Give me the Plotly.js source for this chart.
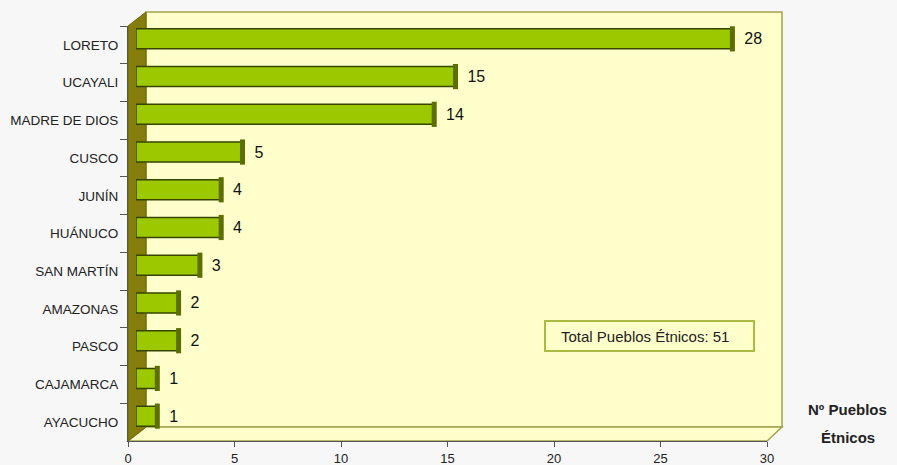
<!DOCTYPE html>
<html>
<head>
<meta charset="utf-8">
<script src="https://cdn.plot.ly/plotly-3.0.1.min.js"></script>
<style>html,body{margin:0;padding:0;background:#f7f7f7;}</style>
</head>
<body>
<div id="chart" style="width:897px;height:465px;"></div>
<script>
const categories = ['LORETO','UCAYALI','MADRE DE DIOS','CUSCO','JUNÍN','HUÁNUCO','SAN MARTÍN','AMAZONAS','PASCO','CAJAMARCA','AYACUCHO'];
const values = [28,15,14,5,4,4,3,2,2,1,1];
const xTicks = [0,5,10,15,20,25,30];
const totalLabel = 'Total Pueblos Étnicos: 51';
const axisTitleLines = ['Nº Pueblos','Étnicos'];

// plot area in px: x 128..782, y 12..441
const L = 128, R = 782, T = 12, B = 441;
const W = R - L, H = B - T;
const px = v => (v - L) / W;
const py = v => (B - v) / H;

const wallFill = '#ffffcc', wallLine = '#a2a24e', sideFill = '#857d0c';
const font = 'Liberation Sans, Arial, sans-serif';

const traces = [
  { // invisible helper so front axes render categories
    type: 'scatter', mode: 'markers', x: values.map(() => 0), y: categories,
    xaxis: 'x', yaxis: 'y', marker: {opacity: 0}, hoverinfo: 'skip', showlegend: false
  },
  {
    type: 'bar', orientation: 'h', x: values, y: categories,
    xaxis: 'x2', yaxis: 'y2', width: 0.53,
    marker: {color: '#9cc800', line: {color: '#354500', width: 1.5}},
    text: values.map(String), texttemplate: '  %{text}', textposition: 'outside',
    textfont: {family: font, size: 16, color: '#111'},
    cliponaxis: false, showlegend: false
  },
  { // cylinder end caps
    type: 'scatter', mode: 'markers', x: values, y: categories,
    xaxis: 'x2', yaxis: 'y2',
    marker: {symbol: 'line-ns-open', size: 18, color: '#5a6f00', line: {width: 5, color: '#5a6f00'}},
    hoverinfo: 'skip', showlegend: false, cliponaxis: false
  }
];

const frontY = [0, (B - 26) / H];
const layout = {
  width: 897, height: 465,
  margin: {l: L, r: 897 - R, t: T, b: 465 - B},
  paper_bgcolor: '#f7f7f7', plot_bgcolor: 'rgba(0,0,0,0)',
  showlegend: false,
  xaxis: {
    domain: [0, (767 - L) / W], range: [0, 30], tickvals: xTicks,
    ticks: 'outside', ticklen: 5, tickcolor: '#555', showline: true, linecolor: '#555', linewidth: 1,
    showgrid: false, zeroline: false, anchor: 'y',
    tickfont: {family: font, size: 13, color: '#222'}
  },
  yaxis: {
    domain: frontY, type: 'category', categoryorder: 'array', categoryarray: categories,
    range: [categories.length - 0.5, -0.5], tickson: 'boundaries',
    ticks: 'outside', ticklen: 7, tickcolor: '#555', showline: true, linecolor: '#555', linewidth: 1,
    ticklabelstandoff: 6,
    showgrid: false, zeroline: false, anchor: 'x',
    tickfont: {family: font, size: 13.5, color: '#222'}
  },
  xaxis2: {
    domain: [8 / W, (767 - L + 8) / W], range: [0, 30], visible: false, anchor: 'y2'
  },
  yaxis2: {
    domain: [6 / H, (B - 26 + 6) / H], type: 'category', categoryorder: 'array', categoryarray: categories,
    range: [categories.length - 0.5, -0.5], visible: false, anchor: 'x2'
  },
  shapes: [
    {type: 'rect', xref: 'paper', yref: 'paper', x0: px(146), x1: px(782), y0: py(427), y1: py(12),
     fillcolor: wallFill, line: {color: wallLine, width: 1.5}, layer: 'below'},
    {type: 'path', xref: 'paper', yref: 'paper',
     path: `M ${px(128)} ${py(441)} L ${px(767)} ${py(441)} L ${px(782)} ${py(427)} L ${px(146)} ${py(427)} Z`,
     fillcolor: wallFill, line: {color: wallLine, width: 1.5}, layer: 'below'},
    {type: 'path', xref: 'paper', yref: 'paper',
     path: `M ${px(128)} ${py(441)} L ${px(146)} ${py(427)} L ${px(146)} ${py(12)} L ${px(128)} ${py(26)} Z`,
     fillcolor: sideFill, line: {color: '#6d6608', width: 1}, layer: 'below'},
    {type: 'rect', xref: 'paper', yref: 'paper', x0: px(545), x1: px(754), y0: py(351), y1: py(321),
     fillcolor: wallFill, line: {color: '#aabb44', width: 2}, layer: 'above'}
  ],
  annotations: [
    {xref: 'paper', yref: 'paper', x: px(645), y: py(336), text: totalLabel, showarrow: false,
     xanchor: 'center', yanchor: 'middle',
     font: {family: font, size: 15, color: '#222'}},
    {xref: 'paper', yref: 'paper', x: px(847), y: py(409), text: '<b>' + axisTitleLines[0] + '</b>', showarrow: false,
     xanchor: 'center', yanchor: 'middle',
     font: {family: font, size: 15, color: '#222'}},
    {xref: 'paper', yref: 'paper', x: px(848), y: py(437), text: '<b>' + axisTitleLines[1] + '</b>', showarrow: false,
     xanchor: 'center', yanchor: 'middle',
     font: {family: font, size: 15, color: '#222'}}
  ]
};

Plotly.newPlot('chart', traces, layout, {displayModeBar: false, staticPlot: true});
</script>
</body>
</html>
